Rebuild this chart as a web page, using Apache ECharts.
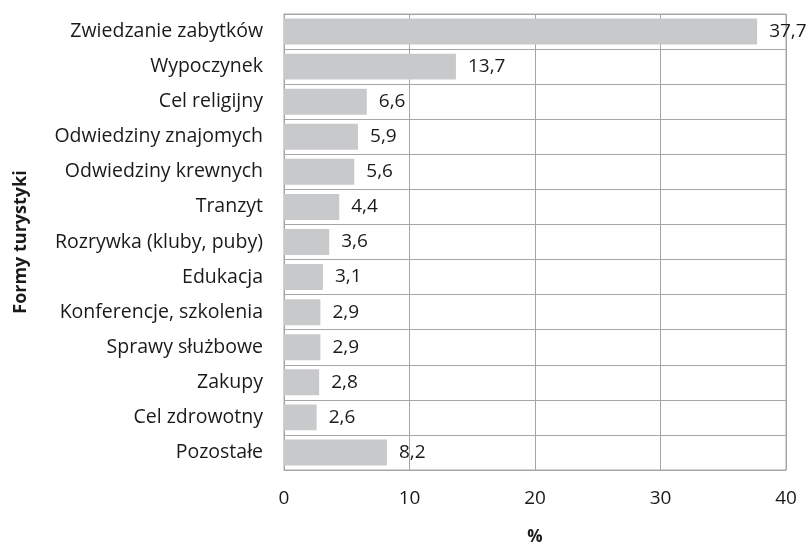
<!DOCTYPE html>
<html>
<head>
<meta charset="utf-8">
<script src="https://cdn.jsdelivr.net/npm/echarts@6/dist/echarts.min.js"></script>
<style>
  html, body { margin: 0; padding: 0; background: #fff; }
  #chart { width: 811px; height: 543px; }
</style>
</head>
<body>
<div id="chart"></div>
<script>
const categories = [
  'Zwiedzanie zabytków', 'Wypoczynek', 'Cel religijny', 'Odwiedziny znajomych',
  'Odwiedziny krewnych', 'Tranzyt', 'Rozrywka (kluby, puby)', 'Edukacja',
  'Konferencje, szkolenia', 'Sprawy służbowe', 'Zakupy', 'Cel zdrowotny', 'Pozostałe'
];
const values = [37.7, 13.7, 6.6, 5.9, 5.6, 4.4, 3.6, 3.1, 2.9, 2.9, 2.8, 2.6, 8.2];
const xTicks = [0, 10, 20, 30, 40];

const chart = echarts.init(document.getElementById('chart'));
const gridColor = '#a6a6a6';
const font = '"Open Sans", sans-serif';

chart.setOption({
  animation: false,
  grid: {
    left: 284, right: 25, top: 14, bottom: 73,
    outerBoundsMode: 'none',
    containLabel: false,
    show: true, borderColor: gridColor, borderWidth: 1
  },
  xAxis: {
    type: 'value',
    min: xTicks[0],
    max: xTicks[xTicks.length - 1],
    interval: 10,
    name: '%',
    nameLocation: 'middle',
    nameGap: 59,
    nameTextStyle: { fontFamily: font, fontWeight: 'bold', fontSize: 17, color: '#1a1a1a' },
    axisLine: { show: true, lineStyle: { color: gridColor } },
    axisTick: { show: false },
    axisLabel: { margin: 19, fontFamily: font, fontSize: 19, color: '#1a1a1a' },
    splitLine: { show: true, lineStyle: { color: gridColor, width: 1 } }
  },
  yAxis: {
    type: 'category',
    data: categories,
    inverse: true,
    name: 'Formy turystyki',
    nameLocation: 'middle',
    nameGap: 254,
    nameRotate: 90,
    nameTextStyle: { fontFamily: font, fontWeight: 'bold', fontSize: 18, color: '#1a1a1a' },
    axisLine: { show: true, lineStyle: { color: gridColor } },
    axisTick: { show: false },
    axisLabel: { margin: 21, fontFamily: font, fontSize: 19.5, color: '#1a1a1a' },
    splitLine: { show: true, lineStyle: { color: gridColor, width: 1 } }
  },
  series: [{
    type: 'bar',
    data: values,
    barCategoryGap: '26%',
    itemStyle: { color: '#c8c9cb' },
    label: {
      show: true,
      position: 'right',
      distance: 12,
      fontFamily: font,
      fontSize: 19,
      color: '#1a1a1a',
      formatter: p => String(p.value).replace('.', ',')
    }
  }]
});
</script>
</body>
</html>
